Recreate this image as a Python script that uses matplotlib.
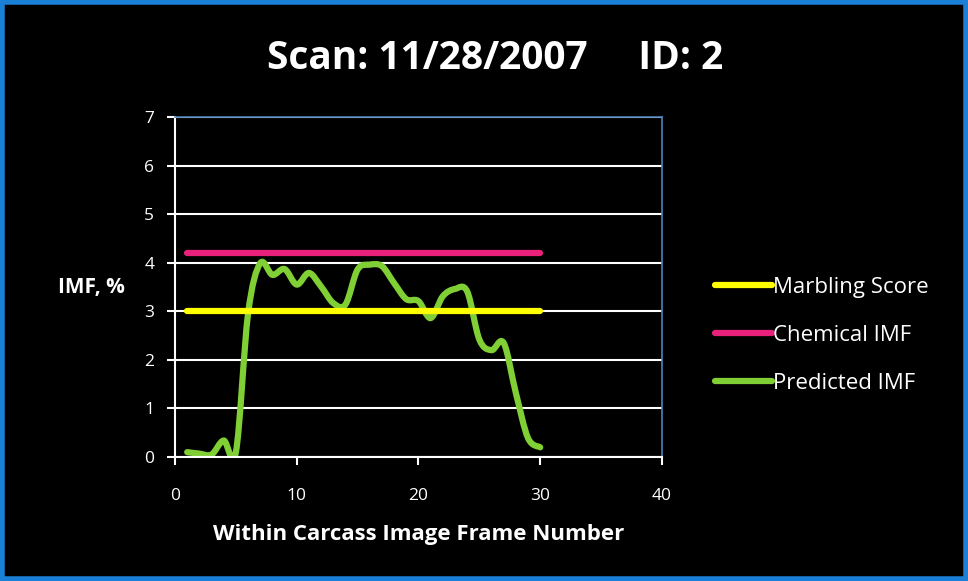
import numpy as np
import matplotlib
matplotlib.use('Agg')
import matplotlib.pyplot as plt
from matplotlib.path import Path
from matplotlib.patches import PathPatch, Rectangle

# data
frames = list(range(1, 31))
predicted = [0.10, 0.07, 0.05, 0.34, 0.10, 2.95, 3.99, 3.75, 3.87, 3.55,
             3.79, 3.51, 3.17, 3.14, 3.86, 3.96, 3.93, 3.58, 3.25, 3.21,
             2.86, 3.31, 3.46, 3.41, 2.42, 2.20, 2.35, 1.32, 0.39, 0.20]
marbling = [3.0, 3.0]
chemical = [4.2, 4.2]
line_x = [1, 30]

plt.rcParams['font.family'] = ['Open Sans', 'DejaVu Sans']


def smooth_path(x, y):
    # Excel-like smoothed line: cubic Bezier segments, Catmull-Rom tangents
    x = np.asarray(x, float)
    y = np.asarray(y, float)
    verts = [(x[0], y[0])]
    codes = [Path.MOVETO]
    n = len(x)
    for i in range(n - 1):
        x0, y0 = (x[i-1], y[i-1]) if i > 0 else (x[i], y[i])
        x3, y3 = (x[i+2], y[i+2]) if i < n - 2 else (x[i+1], y[i+1])
        c1 = (x[i] + (x[i+1] - x0) / 6, y[i] + (y[i+1] - y0) / 6)
        c2 = (x[i+1] - (x3 - x[i]) / 6, y[i+1] - (y3 - y[i]) / 6)
        verts += [c1, c2, (x[i+1], y[i+1])]
        codes += [Path.CURVE4] * 3
    return Path(verts, codes)


fig = plt.figure(figsize=(9.68, 5.81), dpi=100, facecolor='black')
fig.patches.append(Rectangle((0.002, 0.003), 0.996, 0.994, transform=fig.transFigure,
                             fill=False, edgecolor='#1a7fd6', linewidth=4))

ax = fig.add_axes([0.1808, 0.2134, 0.503, 0.5852])
ax.set_facecolor('black')

ax.plot(line_x, marbling, color='#ffff00', lw=4.5, solid_capstyle='round', label='Marbling Score')
ax.plot(line_x, chemical, color='#e8217a', lw=4.5, solid_capstyle='round', label='Chemical IMF')
ax.add_patch(PathPatch(smooth_path(frames, predicted), fill=False, edgecolor='#7fcf35',
                       lw=4.5, capstyle='round', joinstyle='round'))
ax.plot([], [], color='#7fcf35', lw=4.5, solid_capstyle='round', label='Predicted IMF')

ax.set_xlim(0, 40)
ax.set_ylim(0, 7)
ax.set_xticks([0, 10, 20, 30, 40])
ax.set_yticks(range(8))
ax.yaxis.grid(True, color='white', lw=1.5)
ax.set_axisbelow(True)
for s in ['left', 'bottom']:
    ax.spines[s].set_color('white')
    ax.spines[s].set_linewidth(1.5)
for s in ['top', 'right']:
    ax.spines[s].set_color('#4f81bd')
    ax.spines[s].set_linewidth(1.2)
ax.tick_params(colors='white', labelsize=12.5, direction='out', width=1.5, length=6)
ax.tick_params(axis='x', pad=16)
ax.tick_params(axis='y', pad=9)

ax.set_xlabel('Within Carcass Image Frame Number', color='white', fontsize=16,
              fontweight='bold', labelpad=15)
ax.set_ylabel('IMF, %', color='white', fontsize=15, fontweight='bold', rotation=0,
              ha='right', va='center')
ax.yaxis.set_label_coords(-0.103, 0.5)

fig.text(0.512, 0.900, 'Scan: 11/28/2007     ID: 2', color='white', fontsize=28,
         fontweight='bold', ha='center', va='center')

leg = ax.legend(loc='center left', bbox_to_anchor=(1.109, 0.358), frameon=False,
                fontsize=16, handlelength=2.57, handletextpad=0.05, labelspacing=1.22,
                borderaxespad=0, borderpad=0, labelcolor='white')

plt.savefig('out.png', dpi=100, facecolor='black')
